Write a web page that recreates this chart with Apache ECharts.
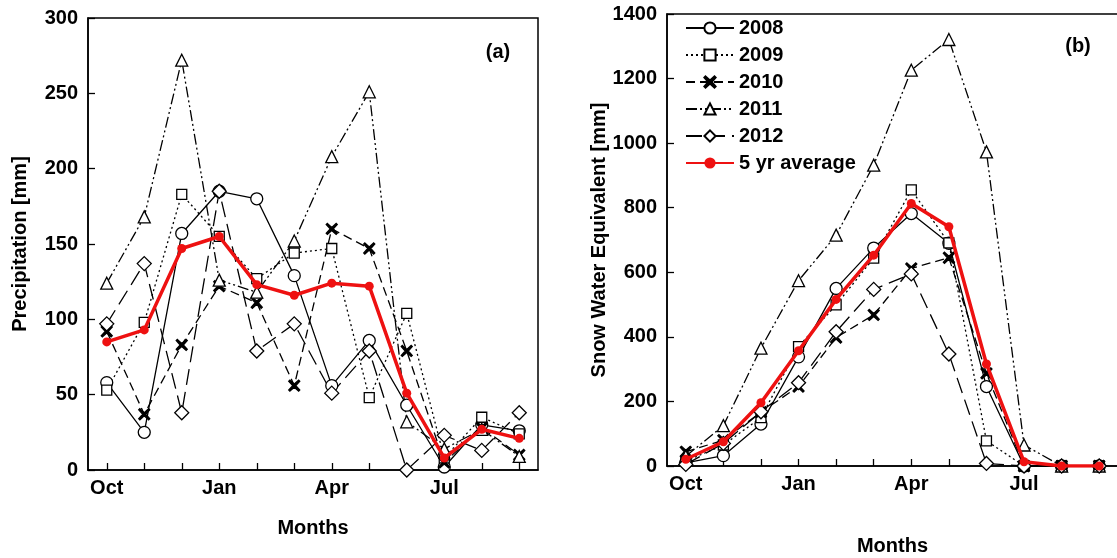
<!DOCTYPE html>
<html>
<head>
<meta charset="utf-8">
<script src="https://cdn.jsdelivr.net/npm/echarts@6/dist/echarts.min.js"></script>
<style>
  html, body { margin: 0; padding: 0; background: #fff; }
</style>
</head>
<body>
<div id="chart" style="width:1117px;height:558px;"></div>
<script>
// months of the water year
const months = ['Oct', 'Nov', 'Dec', 'Jan', 'Feb', 'Mar', 'Apr', 'May', 'Jun', 'Jul', 'Aug', 'Sep']
const seriesNames = ['2008', '2009', '2010', '2011', '2012', '5 yr average']

// (a) monthly precipitation [mm]
const precip2008 = [58, 25, 157, 185, 180, 129, 56, 86, 43, 2, 30, 26]
const precip2009 = [53, 98, 183, 155, 127, 144, 147, 48, 104, 8, 35, 24]
const precip2010 = [92, 37, 83, 122, 111, 56, 160, 147, 79, 5, 28, 10]
const precip2011 = [124, 168, 272, 126, 118, 152, 208, 251, 32, 14, 27, 9]
const precip2012 = [97, 137, 38, 185, 79, 97, 51, 79, 0, 23, 13, 38]
const precipAvg = [85, 93, 147, 155, 123, 116, 124, 122, 51, 8, 27, 21]

// (b) snow water equivalent [mm]
const swe2008 = [10, 32, 130, 338, 550, 675, 782, 690, 246, 0, 0, 0]
const swe2009 = [15, 65, 150, 370, 499, 644, 855, 691, 78, 0, 0, 0]
const swe2010 = [44, 80, 167, 246, 398, 468, 612, 645, 287, 0, 0, 0]
const swe2011 = [30, 125, 365, 574, 715, 932, 1226, 1321, 973, 65, 0, 0]
const swe2012 = [5, 70, 168, 258, 416, 547, 595, 347, 8, 0, 0, 0]
const sweAvg = [21, 75, 196, 357, 516, 653, 813, 741, 316, 13, 0, 0]

const FONT = '"Liberation Sans", Arial, sans-serif'
const xSymbol = 'path://M1,0 L5,3.6 L9,0 L10,1 L6.4,5 L10,9 L9,10 L5,6.4 L1,10 L0,9 L3.6,5 L0,1 Z'

// look of each series: symbol, size, dash
const styles = [
  { symbol: 'circle', size: 12, dash: 'solid', fill: '#fff' },
  { symbol: 'rect', size: 10, dash: [2, 3], fill: '#fff' },
  { symbol: xSymbol, size: 11, dash: [9, 5], fill: '#000' },
  { symbol: 'triangle', size: 12, dash: [11, 3, 2, 3, 2, 3], fill: '#fff' },
  { symbol: 'diamond', size: 14, dash: [16, 7], fill: '#fff' }
]

function makeSeries (dataList, axisIndex) {
  let out = []
  for (let i = 0; i < 5; i++) {
    let s = styles[i]
    out.push({
      name: seriesNames[i],
      type: 'line',
      xAxisIndex: axisIndex,
      yAxisIndex: axisIndex,
      data: dataList[i],
      symbol: s.symbol,
      symbolSize: s.size,
      showAllSymbol: true,
      lineStyle: { color: '#000', width: 1.3, type: s.dash },
      itemStyle: { color: s.fill, borderColor: '#000', borderWidth: 1.3 },
      z: 2
    })
  }
  out.push({
    name: seriesNames[5],
    type: 'line',
    xAxisIndex: axisIndex,
    yAxisIndex: axisIndex,
    data: dataList[5],
    symbol: 'circle',
    symbolSize: 9,
    lineStyle: { color: '#ee1111', width: 3.5 },
    itemStyle: { color: '#ee1111', borderWidth: 0 },
    z: 5
  })
  return out
}

function xAxisOf (idx, gap) {
  return {
    type: 'category',
    gridIndex: idx,
    data: months,
    boundaryGap: true,
    name: 'Months',
    nameLocation: 'middle',
    nameGap: gap,
    nameMoveOverlap: false,
    nameTextStyle: { fontFamily: FONT, fontWeight: 'bold', fontSize: 20, color: '#000' },
    axisLine: { lineStyle: { color: '#000', width: 1.5 } },
    axisTick: { show: true, inside: true, alignWithLabel: true, interval: 0, length: 7, lineStyle: { color: '#000', width: 1.3 } },
    axisLabel: { interval: 2, margin: 8, fontFamily: FONT, fontWeight: 'bold', fontSize: 20, color: '#000' },
    splitLine: { show: false }
  }
}

function yAxisOf (idx, name, max, step) {
  return {
    type: 'value',
    gridIndex: idx,
    min: 0,
    max: max,
    interval: step,
    name: name,
    nameLocation: 'middle',
    nameGap: 58,
    nameMoveOverlap: false,
    nameTextStyle: { fontFamily: FONT, fontWeight: 'bold', fontSize: 20, color: '#000' },
    axisLine: { show: true, lineStyle: { color: '#000', width: 1.5 } },
    axisTick: { show: true, inside: true, length: 7, lineStyle: { color: '#000', width: 1.3 } },
    axisLabel: {
      margin: 10,
      fontFamily: FONT,
      fontWeight: 'bold',
      fontSize: 20,
      color: '#000',
      formatter: function (v) { return String(v) }
    },
    splitLine: { show: false }
  }
}

let myChart = echarts.init(document.getElementById('chart'))
myChart.setOption({
  animation: false,
  backgroundColor: '#fff',
  grid: [
    { left: 88, top: 18, width: 450, height: 452, show: true, borderColor: '#000', borderWidth: 1.5, backgroundColor: 'transparent', outerBoundsMode: 'none' },
    { left: 667, top: 14, width: 451, height: 452, show: true, borderColor: '#000', borderWidth: 1.5, backgroundColor: 'transparent', outerBoundsMode: 'none' }
  ],
  xAxis: [xAxisOf(0, 48), xAxisOf(1, 70)],
  yAxis: [
    yAxisOf(0, 'Precipitation [mm]', 300, 50),
    yAxisOf(1, 'Snow Water Equivalent [mm]', 1400, 200)
  ],
  legend: {
    data: seriesNames,
    orient: 'vertical',
    left: 680,
    top: 13,
    itemWidth: 48,
    itemHeight: 14,
    itemGap: 7,
    textStyle: { fontFamily: FONT, fontWeight: 'bold', fontSize: 20, color: '#000' },
    selectedMode: false
  },
  graphic: [
    { type: 'text', x: 498, y: 52, style: { text: '(a)', fontFamily: FONT, fontWeight: 'bold', fontSize: 20, fill: '#000', align: 'center', verticalAlign: 'middle' } },
    { type: 'text', x: 1078, y: 46, style: { text: '(b)', fontFamily: FONT, fontWeight: 'bold', fontSize: 20, fill: '#000', align: 'center', verticalAlign: 'middle' } }
  ],
  series: makeSeries([precip2008, precip2009, precip2010, precip2011, precip2012, precipAvg], 0)
    .concat(makeSeries([swe2008, swe2009, swe2010, swe2011, swe2012, sweAvg], 1))
})
</script>
</body>
</html>
